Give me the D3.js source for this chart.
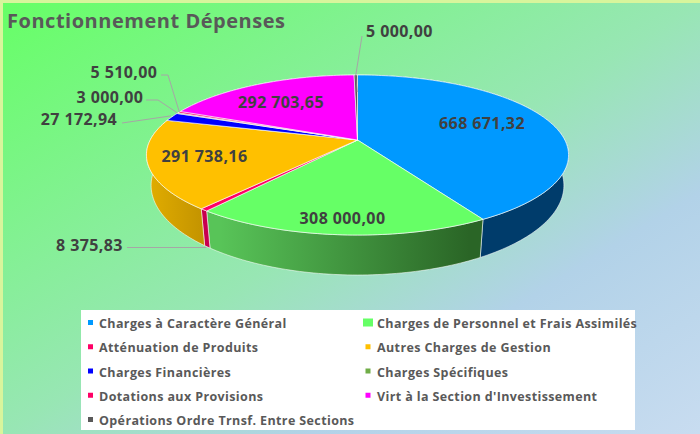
<!DOCTYPE html>
<html><head><meta charset="utf-8">
<script src="https://cdn.jsdelivr.net/npm/d3@7/dist/d3.min.js"></script>
<style>html,body{margin:0;padding:0;background:#fff}svg{display:block}text{font-family:"Open Sans",sans-serif;font-weight:700}</style>
</head><body><svg id="c" width="700" height="434"></svg>
<script>
const categories=["Charges à Caractère Général","Charges de Personnel et Frais Assimilés","Atténuation de Produits","Autres Charges de Gestion","Charges Financières","Charges Spécifiques","Dotations aux Provisions","Virt à la Section d'Investissement","Opérations Ordre Trnsf. Entre Sections"];
const values=[668671.32,308000,8375.83,291738.16,27172.94,3000,5510,292703.65,5000];
const topColors=["#0099ff","#66ff66","#ff0066","#ffc000","#0000ff","#70ad47","#ff0066","#ff00ff","#595959"];
const wallLeft=["#003c6b","#58c458","#c8004f","#e0ac00","#000099","#4a7a30","#c8004f","#b000b0","#3c3c3c"];
const wallRight=["#003c6b","#2a6526","#c8004f","#c49400","#000099","#4a7a30","#c8004f","#b000b0","#3c3c3c"];
const labelPos=[[482,123],[342.5,218],[89.5,245],[204.5,156],[79,119],[110,97],[124,72],[281,102],[399.5,31]];
const legendOrder=[[0,1],[2,3],[4,5],[6,7],[8]];

const svg=d3.select("#c");
const defs=svg.append("defs");
const bg=defs.append("linearGradient").attr("id","bg").attr("x1",0).attr("y1",0).attr("x2",1).attr("y2",1);
[[0,"#66ff66"],[.5,"#98e6b4"],[.72,"#b2d2e8"],[1,"#c8dcf0"]].forEach(s=>bg.append("stop").attr("offset",s[0]).attr("stop-color",s[1]));
svg.append("rect").attr("width",700).attr("height",434).attr("fill","#d8f59c");
svg.append("rect").attr("x",3).attr("y",3).attr("width",697).attr("height",431).attr("fill","url(#bg)");

svg.append("text").attr("x",7).attr("y",27.5).attr("font-size",20).attr("fill","#595959").attr("textLength",278).text("Fonctionnement Dépenses");

// perspective projection of the pie disc
const cx=357.5,cy=140,a=207.3,b=77.2,k=0.1875;
const topPt=t=>{const u=Math.sin(t),v=-Math.cos(t),w=1-k*v;return [cx+a*u/w,cy+b*v/w];};
const botPt=t=>{const p=topPt(t);return [cx+(p[0]-cx)*.978,168.6+(p[1]-cy)*1.12];};
const pie=d3.pie().sort(null).value(d=>d)(values);
const line=d3.line();
const sample=(s,e)=>{const n=Math.max(2,Math.ceil((e-s)/0.02));return d3.range(n+1).map(i=>s+(e-s)*i/n);};

// walls
const walls=svg.append("g"), tops=svg.append("g");
pie.forEach((d,i)=>{
 const ts=sample(d.startAngle,d.endAngle);
 const tp=ts.map(topPt),bp=ts.map(botPt);
 const xs=tp.concat(bp).map(p=>p[0]);
 const g=defs.append("linearGradient").attr("id","w"+i).attr("gradientUnits","userSpaceOnUse")
  .attr("x1",d3.min(xs)).attr("x2",d3.max(xs)).attr("y1",0).attr("y2",0);
 g.append("stop").attr("offset",.05).attr("stop-color",wallLeft[i]);
 g.append("stop").attr("offset",.95).attr("stop-color",wallRight[i]);
 walls.append("path").attr("d",line(tp.concat(bp.reverse()))+"Z").attr("fill",`url(#w${i})`)
  .attr("stroke","#fff").attr("stroke-opacity",.7).attr("stroke-width",.8).attr("stroke-linejoin","round");
});
// top surface
pie.forEach((d,i)=>{
 const ts=sample(d.startAngle,d.endAngle);
 tops.append("path").attr("d",line([[cx,cy]].concat(ts.map(topPt)))+"Z").attr("fill",topColors[i])
  .attr("stroke","#fff").attr("stroke-opacity",.8).attr("stroke-width",.8).attr("stroke-linejoin","round");
});

// leader lines
const mid=d=>(d.startAngle+d.endAngle)/2;
const leaders=svg.append("g").attr("fill","none").attr("stroke","#a6a6a6").attr("stroke-width",1);
const P=i=>topPt(mid(pie[i]));
const B=i=>botPt(mid(pie[i]));
leaders.append("path").attr("d",line([[127,247.5],[B(2)[0]-1,247.5]]));
leaders.append("path").attr("d",line([[122,123],[P(4)[0]-1,P(4)[1]-1]]));
leaders.append("path").attr("d",line([[146,100],[158,100],[P(5)[0],P(5)[1]]]));
leaders.append("path").attr("d",line([[161,75],[168,75],[P(6)[0],P(6)[1]]]));
leaders.append("path").attr("d",line([[362,36],[P(8)[0],P(8)[1]]]));
svg.append("path").attr("d",line([[P(8)[0],P(8)[1]],[cx-.5,cy-48]])).attr("stroke","#7a7a7a").attr("fill","none");

// labels
const fmt=d3.formatLocale({decimal:",",thousands:"\u00a0",grouping:[3]}).format(",.2f");
svg.append("g").selectAll("text").data(values).join("text")
 .attr("x",(d,i)=>labelPos[i][0]).attr("y",(d,i)=>labelPos[i][1]+5.5)
 .attr("text-anchor","middle").attr("font-size",16).attr("letter-spacing",.4).attr("fill","#404040").text(d=>fmt(d));

// legend
const lg=svg.append("g");
lg.append("rect").attr("x",81).attr("y",310).attr("width",554).attr("height",120).attr("fill","#fff");
const rowY=d3.scalePoint().domain(d3.range(legendOrder.length)).range([324,421]);
const colX=[99,377], markX=[90.5,368];
legendOrder.forEach((row,r)=>row.forEach((i,c)=>{
 const big=i===1, s=big?[10,8]:[5,5];
 lg.append("rect").attr("x",markX[c]-s[0]/2).attr("y",rowY(r)-1.5-s[1]/2).attr("width",s[0]).attr("height",s[1]).attr("fill",topColors[i]);
 lg.append("text").attr("x",colX[c]).attr("y",rowY(r)+4).attr("font-size",12.5).attr("fill","#595959").attr("letter-spacing",.38).text(categories[i]);
}));
</script></body></html>
